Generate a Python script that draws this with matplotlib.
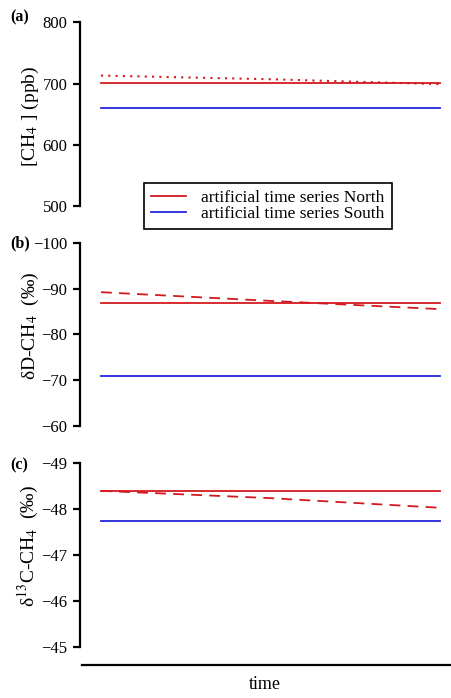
import matplotlib
matplotlib.use('Agg')
import matplotlib.pyplot as plt
import numpy as np

# time axis is unitless (start, middle, end of the artificial series)
time = [0.0, 0.5, 1.0]

# panel (a): CH4 mixing ratio (ppb)
ch4_north = [701, 701, 701]
ch4_south = [660, 660, 660]
ch4_north_alt = [713, 707, 699]

# panel (b): dD-CH4 (permil)
dD_north = [-86.8, -86.8, -86.8]
dD_south = [-70.9, -70.9, -70.9]
dD_north_alt = [-89.2, -87.3, -85.5]

# panel (c): d13C-CH4 (permil)
d13C_north = [-48.4, -48.4, -48.4]
d13C_south = [-47.75, -47.75, -47.75]
d13C_north_alt = [-48.4, -48.24, -48.03]

RED = '#d3191f'
BLUE = '#2424dc'

plt.rcParams['font.family'] = ['Liberation Serif', 'DejaVu Serif']
plt.rcParams['mathtext.fontset'] = 'stix'
plt.rcParams['font.size'] = 12

W, H = 451, 698
fig = plt.figure(figsize=(W / 100, H / 100), dpi=100)

x0, x1 = 80, 450
xlim = (-21 / 339, 1 + 10 / 339)
ylab_x = -0.105


def make_axes(top, bottom):
    ax = fig.add_axes([x0 / W, 1 - bottom / H, (x1 - x0) / W, (bottom - top) / H])
    for s in ['top', 'right', 'bottom']:
        ax.spines[s].set_visible(False)
    ax.spines['left'].set_linewidth(1.6)
    ax.tick_params(axis='y', length=5, width=1.6, pad=4, labelsize=12)
    ax.set_xticks([])
    ax.set_xlim(*xlim)
    ax.patch.set_visible(False)
    return ax


ax1 = make_axes(22.3, 206)
ax1.plot(time, ch4_north, color=RED, lw=1.3, label='artificial time series North')
ax1.plot(time, ch4_south, color=BLUE, lw=1.3, label='artificial time series South')
ax1.plot(time, ch4_north_alt, color=RED, lw=1.5, ls=(0, (1, 2.5)))
ax1.set_ylim(500, 800)
ax1.set_yticks([500, 600, 700, 800])
ax1.set_ylabel('[CH$_4$ ] (ppb)', fontsize=14)
ax1.yaxis.set_label_coords(ylab_x, 0.49)

ax2 = make_axes(242.7, 426)
ax2.plot(time, dD_north, color=RED, lw=1.3)
ax2.plot(time, dD_south, color=BLUE, lw=1.3)
ax2.plot(time, dD_north_alt, color=RED, lw=1.3, ls=(0, (6, 4)))
ax2.set_ylim(-60, -100)
ax2.set_yticks([-100, -90, -80, -70, -60])
ax2.set_ylabel('δD-CH$_4$  (‰)', fontsize=14)
ax2.yaxis.set_label_coords(ylab_x, 0.545)

ax3 = make_axes(463.3, 646.7)
ax3.plot(time, d13C_north, color=RED, lw=1.3)
ax3.plot(time, d13C_south, color=BLUE, lw=1.3)
ax3.plot(time, d13C_north_alt, color=RED, lw=1.3, ls=(0, (6, 4)))
ax3.set_ylim(-45, -49)
ax3.set_yticks([-49, -48, -47, -46, -45])
ax3.set_ylabel('δ$^{13}$C-CH$_4$  (‰)', fontsize=14)
ax3.yaxis.set_label_coords(ylab_x, 0.55)

# detached time axis below the last panel
ax3.spines['bottom'].set_visible(True)
ax3.spines['bottom'].set_position(('outward', 13.2))
ax3.spines['bottom'].set_linewidth(1.6)
ax3.spines['bottom'].set_bounds(-19 / 339, xlim[1])
ax3.set_xlabel('time', fontsize=13, labelpad=8)

# panel letters
for lab, y in [('(a)', 17), ('(b)', 243), ('(c)', 465)]:
    fig.text(10 / W, 1 - y / H, lab, fontsize=11.5, fontweight='bold', va='center', ha='left')

leg = fig.legend(*ax1.get_legend_handles_labels(), loc='upper left',
                 bbox_to_anchor=(144 / W, 1 - 183 / H), fontsize=12.5,
                 fancybox=False, framealpha=1, edgecolor='black',
                 handlelength=2.0, handletextpad=0.9, labelspacing=0.0,
                 borderpad=0.4, borderaxespad=0)
leg.get_frame().set_linewidth(1.2)

fig.savefig('out.png', dpi=100)
